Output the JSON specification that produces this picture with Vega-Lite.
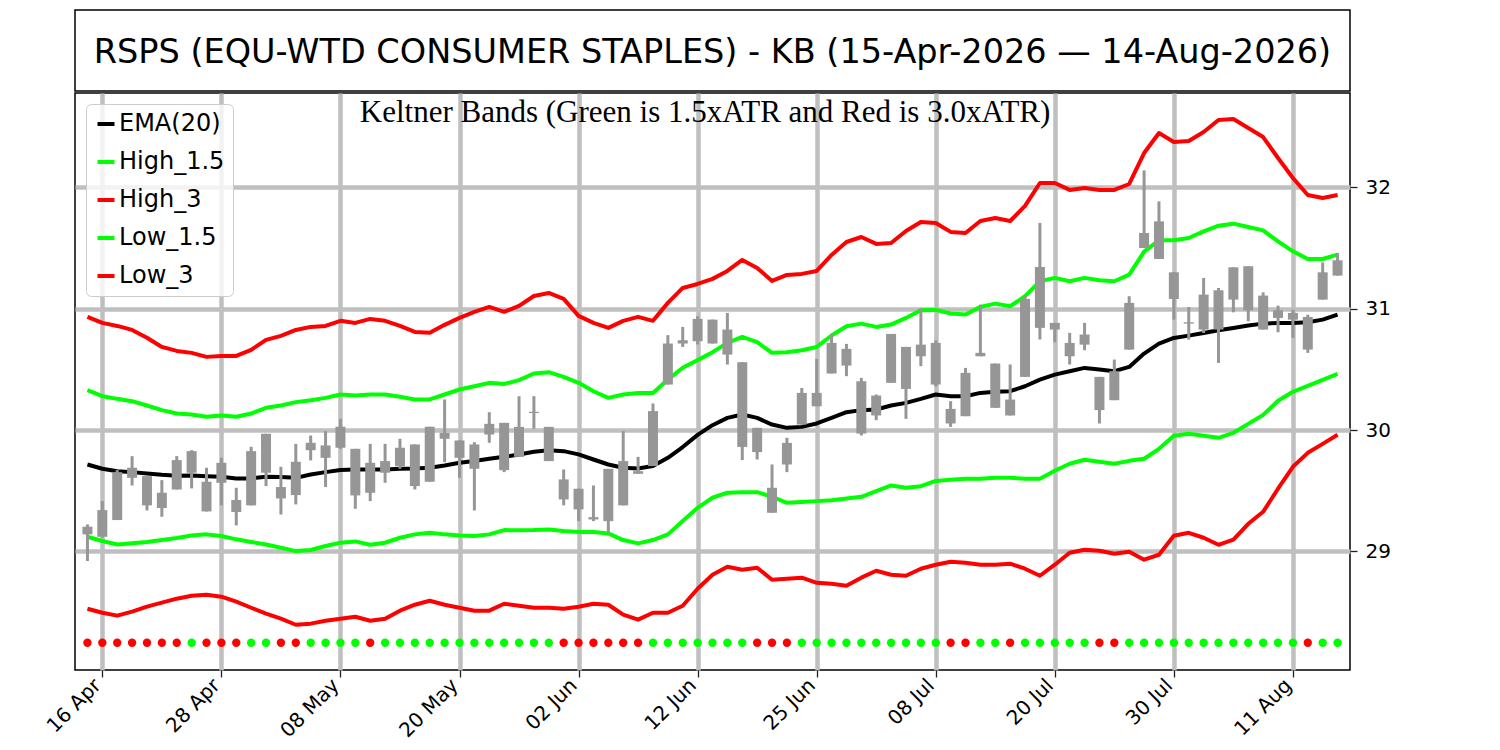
{
  "$schema": "https://vega.github.io/schema/vega-lite/v6.json",
  "background": "white",
  "padding": {"left": 42, "top": 9, "right": 5, "bottom": 2},
  "spacing": 0,
  "resolve": {"legend": {"color": "independent"}, "scale": {"color": "independent"}},
  "config": {
    "font": "DejaVu Sans",
    "view": {"stroke": "#000000", "strokeWidth": 1.5},
    "axis": {
      "labelFont": "DejaVu Sans",
      "labelColor": "#000000",
      "labelFontSize": 20,
      "titleFont": "DejaVu Sans",
      "gridColor": "#bfbfbf",
      "gridWidth": 4.5,
      "tickSize": 7,
      "tickWidth": 1.3,
      "tickColor": "#222222",
      "domain": false
    },
    "legend": {"labelFont": "DejaVu Sans"}
  },
  "vconcat": [
    {
      "width": 1275,
      "height": 81,
      "data": {"values": [{"t": "RSPS (EQU-WTD CONSUMER STAPLES) - KB (15-Apr-2026 — 14-Aug-2026)"}]},
      "layer": [
        {
          "mark": {"type": "rect", "filled": false, "stroke": "#000000", "strokeWidth": 1.5}
        },
        {
          "mark": {"type": "text", "font": "DejaVu Sans", "fontSize": 33.5, "align": "center", "baseline": "middle", "dy": 2, "color": "#000000"},
          "encoding": {"text": {"field": "t", "type": "nominal"}}
        }
      ]
    },
    {
      "width": 1275,
      "height": 577,
      "data": {
        "values": [
          {"i": 0, "d": "2026-04-15", "o": 29.140, "c": 29.203, "h": 29.222, "l": 28.920, "ema": 29.716, "h15": 30.329, "h3": 30.933, "l15": 29.120, "l3": 28.527, "sq": "on"},
          {"i": 1, "d": "2026-04-16", "o": 29.120, "c": 29.340, "h": 29.414, "l": 29.112, "ema": 29.681, "h15": 30.279, "h3": 30.883, "l15": 29.085, "l3": 28.494, "sq": "on"},
          {"i": 2, "d": "2026-04-17", "o": 29.258, "c": 29.653, "h": 29.670, "l": 29.258, "ema": 29.661, "h15": 30.257, "h3": 30.858, "l15": 29.057, "l3": 28.470, "sq": "on"},
          {"i": 3, "d": "2026-04-20", "o": 29.606, "c": 29.689, "h": 29.785, "l": 29.543, "ema": 29.653, "h15": 30.238, "h3": 30.825, "l15": 29.066, "l3": 28.503, "sq": "on"},
          {"i": 4, "d": "2026-04-21", "o": 29.620, "c": 29.379, "h": 29.620, "l": 29.337, "ema": 29.642, "h15": 30.202, "h3": 30.760, "l15": 29.077, "l3": 28.544, "sq": "on"},
          {"i": 5, "d": "2026-04-22", "o": 29.357, "c": 29.483, "h": 29.587, "l": 29.285, "ema": 29.631, "h15": 30.164, "h3": 30.685, "l15": 29.093, "l3": 28.577, "sq": "on"},
          {"i": 6, "d": "2026-04-23", "o": 29.510, "c": 29.752, "h": 29.785, "l": 29.510, "ema": 29.623, "h15": 30.136, "h3": 30.652, "l15": 29.110, "l3": 28.610, "sq": "on"},
          {"i": 7, "d": "2026-04-24", "o": 29.648, "c": 29.826, "h": 29.834, "l": 29.519, "ema": 29.626, "h15": 30.128, "h3": 30.636, "l15": 29.131, "l3": 28.634, "sq": "off"},
          {"i": 8, "d": "2026-04-27", "o": 29.574, "c": 29.329, "h": 29.689, "l": 29.329, "ema": 29.620, "h15": 30.109, "h3": 30.603, "l15": 29.140, "l3": 28.643, "sq": "on"},
          {"i": 9, "d": "2026-04-28", "o": 29.565, "c": 29.730, "h": 29.771, "l": 29.379, "ema": 29.615, "h15": 30.120, "h3": 30.611, "l15": 29.126, "l3": 28.626, "sq": "on"},
          {"i": 10, "d": "2026-04-29", "o": 29.423, "c": 29.324, "h": 29.524, "l": 29.214, "ema": 29.601, "h15": 30.109, "h3": 30.611, "l15": 29.099, "l3": 28.585, "sq": "on"},
          {"i": 11, "d": "2026-04-30", "o": 29.379, "c": 29.826, "h": 29.862, "l": 29.379, "ema": 29.601, "h15": 30.136, "h3": 30.661, "l15": 29.077, "l3": 28.535, "sq": "off"},
          {"i": 12, "d": "2026-05-01", "o": 29.969, "c": 29.648, "h": 29.969, "l": 29.538, "ema": 29.615, "h15": 30.183, "h3": 30.743, "l15": 29.057, "l3": 28.486, "sq": "off"},
          {"i": 13, "d": "2026-05-04", "o": 29.530, "c": 29.436, "h": 29.697, "l": 29.304, "ema": 29.612, "h15": 30.202, "h3": 30.776, "l15": 29.030, "l3": 28.445, "sq": "on"},
          {"i": 14, "d": "2026-05-05", "o": 29.464, "c": 29.738, "h": 29.886, "l": 29.387, "ema": 29.606, "h15": 30.230, "h3": 30.825, "l15": 29.002, "l3": 28.395, "sq": "on"},
          {"i": 15, "d": "2026-05-06", "o": 29.834, "c": 29.895, "h": 29.955, "l": 29.749, "ema": 29.634, "h15": 30.246, "h3": 30.850, "l15": 29.011, "l3": 28.404, "sq": "off"},
          {"i": 16, "d": "2026-05-07", "o": 29.873, "c": 29.771, "h": 29.991, "l": 29.530, "ema": 29.653, "h15": 30.265, "h3": 30.858, "l15": 29.044, "l3": 28.428, "sq": "off"},
          {"i": 17, "d": "2026-05-08", "o": 29.854, "c": 30.027, "h": 30.092, "l": 29.845, "ema": 29.670, "h15": 30.293, "h3": 30.900, "l15": 29.071, "l3": 28.445, "sq": "off"},
          {"i": 18, "d": "2026-05-11", "o": 29.845, "c": 29.461, "h": 29.845, "l": 29.351, "ema": 29.675, "h15": 30.285, "h3": 30.883, "l15": 29.082, "l3": 28.461, "sq": "off"},
          {"i": 19, "d": "2026-05-12", "o": 29.483, "c": 29.730, "h": 29.886, "l": 29.414, "ema": 29.675, "h15": 30.293, "h3": 30.916, "l15": 29.055, "l3": 28.428, "sq": "on"},
          {"i": 20, "d": "2026-05-13", "o": 29.744, "c": 29.648, "h": 29.886, "l": 29.565, "ema": 29.675, "h15": 30.293, "h3": 30.900, "l15": 29.071, "l3": 28.445, "sq": "off"},
          {"i": 21, "d": "2026-05-14", "o": 29.703, "c": 29.854, "h": 29.928, "l": 29.681, "ema": 29.681, "h15": 30.274, "h3": 30.858, "l15": 29.112, "l3": 28.511, "sq": "off"},
          {"i": 22, "d": "2026-05-15", "o": 29.881, "c": 29.538, "h": 29.881, "l": 29.510, "ema": 29.683, "h15": 30.252, "h3": 30.809, "l15": 29.140, "l3": 28.560, "sq": "off"},
          {"i": 23, "d": "2026-05-18", "o": 29.574, "c": 30.027, "h": 30.027, "l": 29.574, "ema": 29.689, "h15": 30.252, "h3": 30.801, "l15": 29.153, "l3": 28.593, "sq": "off"},
          {"i": 24, "d": "2026-05-19", "o": 29.977, "c": 29.928, "h": 30.252, "l": 29.735, "ema": 29.708, "h15": 30.293, "h3": 30.867, "l15": 29.140, "l3": 28.560, "sq": "off"},
          {"i": 25, "d": "2026-05-20", "o": 29.914, "c": 29.771, "h": 29.914, "l": 29.606, "ema": 29.730, "h15": 30.334, "h3": 30.924, "l15": 29.131, "l3": 28.535, "sq": "off"},
          {"i": 26, "d": "2026-05-21", "o": 29.681, "c": 29.881, "h": 29.900, "l": 29.337, "ema": 29.744, "h15": 30.361, "h3": 30.974, "l15": 29.126, "l3": 28.511, "sq": "off"},
          {"i": 27, "d": "2026-05-22", "o": 29.963, "c": 30.051, "h": 30.147, "l": 29.895, "ema": 29.763, "h15": 30.389, "h3": 31.015, "l15": 29.140, "l3": 28.511, "sq": "off"},
          {"i": 28, "d": "2026-05-26", "o": 30.059, "c": 29.669, "h": 30.059, "l": 29.653, "ema": 29.779, "h15": 30.380, "h3": 30.974, "l15": 29.175, "l3": 28.568, "sq": "off"},
          {"i": 29, "d": "2026-05-27", "o": 29.779, "c": 30.026, "h": 30.279, "l": 29.779, "ema": 29.799, "h15": 30.411, "h3": 31.023, "l15": 29.173, "l3": 28.552, "sq": "off"},
          {"i": 30, "d": "2026-05-28", "o": 30.140, "c": 30.150, "h": 30.279, "l": 30.010, "ema": 29.821, "h15": 30.466, "h3": 31.105, "l15": 29.175, "l3": 28.535, "sq": "off"},
          {"i": 31, "d": "2026-05-29", "o": 30.026, "c": 29.744, "h": 30.026, "l": 29.744, "ema": 29.834, "h15": 30.477, "h3": 31.130, "l15": 29.181, "l3": 28.535, "sq": "off"},
          {"i": 32, "d": "2026-06-01", "o": 29.593, "c": 29.428, "h": 29.675, "l": 29.379, "ema": 29.826, "h15": 30.438, "h3": 31.081, "l15": 29.167, "l3": 28.527, "sq": "on"},
          {"i": 33, "d": "2026-06-02", "o": 29.516, "c": 29.346, "h": 29.516, "l": 29.249, "ema": 29.799, "h15": 30.389, "h3": 30.941, "l15": 29.159, "l3": 28.544, "sq": "on"},
          {"i": 34, "d": "2026-06-03", "o": 29.263, "c": 29.282, "h": 29.543, "l": 29.249, "ema": 29.757, "h15": 30.320, "h3": 30.883, "l15": 29.159, "l3": 28.568, "sq": "on"},
          {"i": 35, "d": "2026-06-04", "o": 29.249, "c": 29.680, "h": 29.680, "l": 29.153, "ema": 29.716, "h15": 30.265, "h3": 30.842, "l15": 29.148, "l3": 28.560, "sq": "on"},
          {"i": 36, "d": "2026-06-05", "o": 29.379, "c": 29.744, "h": 29.991, "l": 29.379, "ema": 29.689, "h15": 30.293, "h3": 30.900, "l15": 29.093, "l3": 28.478, "sq": "on"},
          {"i": 37, "d": "2026-06-08", "o": 29.661, "c": 29.639, "h": 29.779, "l": 29.639, "ema": 29.683, "h15": 30.306, "h3": 30.933, "l15": 29.066, "l3": 28.437, "sq": "on"},
          {"i": 38, "d": "2026-06-09", "o": 29.703, "c": 30.156, "h": 30.219, "l": 29.703, "ema": 29.703, "h15": 30.306, "h3": 30.900, "l15": 29.093, "l3": 28.494, "sq": "off"},
          {"i": 39, "d": "2026-06-10", "o": 30.375, "c": 30.713, "h": 30.782, "l": 30.375, "ema": 29.771, "h15": 30.416, "h3": 31.048, "l15": 29.140, "l3": 28.494, "sq": "off"},
          {"i": 40, "d": "2026-06-11", "o": 30.740, "c": 30.713, "h": 30.850, "l": 30.685, "ema": 29.860, "h15": 30.513, "h3": 31.171, "l15": 29.250, "l3": 28.552, "sq": "off"},
          {"i": 41, "d": "2026-06-12", "o": 30.732, "c": 30.916, "h": 30.938, "l": 30.705, "ema": 29.960, "h15": 30.576, "h3": 31.204, "l15": 29.359, "l3": 28.692, "sq": "off"},
          {"i": 42, "d": "2026-06-15", "o": 30.910, "c": 30.713, "h": 30.910, "l": 30.713, "ema": 30.040, "h15": 30.642, "h3": 31.246, "l15": 29.442, "l3": 28.807, "sq": "off"},
          {"i": 43, "d": "2026-06-16", "o": 30.828, "c": 30.622, "h": 30.965, "l": 30.540, "ema": 30.100, "h15": 30.718, "h3": 31.311, "l15": 29.483, "l3": 28.873, "sq": "off"},
          {"i": 44, "d": "2026-06-17", "o": 30.559, "c": 29.861, "h": 30.559, "l": 29.752, "ema": 30.128, "h15": 30.768, "h3": 31.402, "l15": 29.488, "l3": 28.848, "sq": "off"},
          {"i": 45, "d": "2026-06-18", "o": 30.018, "c": 29.818, "h": 30.018, "l": 29.757, "ema": 30.100, "h15": 30.724, "h3": 31.336, "l15": 29.488, "l3": 28.865, "sq": "on"},
          {"i": 46, "d": "2026-06-22", "o": 29.524, "c": 29.318, "h": 29.716, "l": 29.318, "ema": 30.045, "h15": 30.636, "h3": 31.229, "l15": 29.450, "l3": 28.766, "sq": "on"},
          {"i": 47, "d": "2026-06-23", "o": 29.716, "c": 29.894, "h": 29.936, "l": 29.653, "ema": 30.018, "h15": 30.641, "h3": 31.278, "l15": 29.400, "l3": 28.774, "sq": "on"},
          {"i": 48, "d": "2026-06-24", "o": 30.045, "c": 30.306, "h": 30.347, "l": 30.045, "ema": 30.026, "h15": 30.658, "h3": 31.287, "l15": 29.406, "l3": 28.783, "sq": "off"},
          {"i": 49, "d": "2026-06-25", "o": 30.306, "c": 30.196, "h": 30.586, "l": 30.196, "ema": 30.054, "h15": 30.685, "h3": 31.311, "l15": 29.414, "l3": 28.741, "sq": "off"},
          {"i": 50, "d": "2026-06-26", "o": 30.466, "c": 30.718, "h": 30.787, "l": 30.466, "ema": 30.100, "h15": 30.779, "h3": 31.443, "l15": 29.422, "l3": 28.733, "sq": "off"},
          {"i": 51, "d": "2026-06-29", "o": 30.669, "c": 30.531, "h": 30.710, "l": 30.444, "ema": 30.147, "h15": 30.855, "h3": 31.550, "l15": 29.436, "l3": 28.717, "sq": "off"},
          {"i": 52, "d": "2026-06-30", "o": 30.402, "c": 29.971, "h": 30.430, "l": 29.955, "ema": 30.164, "h15": 30.877, "h3": 31.591, "l15": 29.450, "l3": 28.783, "sq": "off"},
          {"i": 53, "d": "2026-07-01", "o": 30.120, "c": 30.284, "h": 30.293, "l": 30.081, "ema": 30.169, "h15": 30.850, "h3": 31.534, "l15": 29.496, "l3": 28.840, "sq": "off"},
          {"i": 54, "d": "2026-07-02", "o": 30.389, "c": 30.792, "h": 30.792, "l": 30.389, "ema": 30.202, "h15": 30.869, "h3": 31.542, "l15": 29.543, "l3": 28.807, "sq": "off"},
          {"i": 55, "d": "2026-07-06", "o": 30.685, "c": 30.339, "h": 30.685, "l": 30.092, "ema": 30.224, "h15": 30.924, "h3": 31.641, "l15": 29.524, "l3": 28.799, "sq": "off"},
          {"i": 56, "d": "2026-07-07", "o": 30.608, "c": 30.704, "h": 31.006, "l": 30.526, "ema": 30.257, "h15": 30.987, "h3": 31.715, "l15": 29.537, "l3": 28.857, "sq": "off"},
          {"i": 57, "d": "2026-07-08", "o": 30.375, "c": 30.718, "h": 30.740, "l": 30.360, "ema": 30.293, "h15": 30.990, "h3": 31.707, "l15": 29.580, "l3": 28.890, "sq": "off"},
          {"i": 58, "d": "2026-07-09", "o": 30.174, "c": 30.054, "h": 30.238, "l": 30.026, "ema": 30.279, "h15": 30.960, "h3": 31.633, "l15": 29.590, "l3": 28.914, "sq": "on"},
          {"i": 59, "d": "2026-07-10", "o": 30.114, "c": 30.471, "h": 30.512, "l": 30.114, "ema": 30.279, "h15": 30.952, "h3": 31.624, "l15": 29.598, "l3": 28.906, "sq": "on"},
          {"i": 60, "d": "2026-07-13", "o": 30.636, "c": 30.608, "h": 31.034, "l": 30.608, "ema": 30.306, "h15": 31.015, "h3": 31.723, "l15": 29.598, "l3": 28.890, "sq": "off"},
          {"i": 61, "d": "2026-07-14", "o": 30.548, "c": 30.183, "h": 30.548, "l": 30.183, "ema": 30.315, "h15": 31.042, "h3": 31.748, "l15": 29.606, "l3": 28.890, "sq": "off"},
          {"i": 62, "d": "2026-07-15", "o": 30.251, "c": 30.120, "h": 30.540, "l": 30.120, "ema": 30.320, "h15": 31.020, "h3": 31.723, "l15": 29.606, "l3": 28.898, "sq": "on"},
          {"i": 63, "d": "2026-07-16", "o": 30.438, "c": 31.081, "h": 31.108, "l": 30.438, "ema": 30.361, "h15": 31.103, "h3": 31.847, "l15": 29.598, "l3": 28.857, "sq": "off"},
          {"i": 64, "d": "2026-07-17", "o": 30.842, "c": 31.344, "h": 31.707, "l": 30.746, "ema": 30.416, "h15": 31.226, "h3": 32.036, "l15": 29.598, "l3": 28.799, "sq": "off"},
          {"i": 65, "d": "2026-07-20", "o": 30.883, "c": 30.828, "h": 30.883, "l": 30.724, "ema": 30.457, "h15": 31.254, "h3": 32.036, "l15": 29.664, "l3": 28.890, "sq": "off"},
          {"i": 66, "d": "2026-07-21", "o": 30.718, "c": 30.608, "h": 30.801, "l": 30.540, "ema": 30.485, "h15": 31.226, "h3": 31.979, "l15": 29.722, "l3": 28.989, "sq": "off"},
          {"i": 67, "d": "2026-07-22", "o": 30.704, "c": 30.787, "h": 30.883, "l": 30.658, "ema": 30.512, "h15": 31.254, "h3": 31.995, "l15": 29.755, "l3": 29.013, "sq": "off"},
          {"i": 68, "d": "2026-07-23", "o": 30.438, "c": 30.164, "h": 30.438, "l": 30.054, "ema": 30.498, "h15": 31.234, "h3": 31.979, "l15": 29.738, "l3": 29.005, "sq": "on"},
          {"i": 69, "d": "2026-07-24", "o": 30.246, "c": 30.485, "h": 30.581, "l": 30.246, "ema": 30.485, "h15": 31.226, "h3": 31.979, "l15": 29.722, "l3": 28.980, "sq": "on"},
          {"i": 70, "d": "2026-07-27", "o": 30.663, "c": 31.048, "h": 31.103, "l": 30.663, "ema": 30.520, "h15": 31.281, "h3": 32.028, "l15": 29.746, "l3": 28.997, "sq": "off"},
          {"i": 71, "d": "2026-07-28", "o": 31.500, "c": 31.624, "h": 32.140, "l": 31.500, "ema": 30.630, "h15": 31.470, "h3": 32.283, "l15": 29.763, "l3": 28.931, "sq": "off"},
          {"i": 72, "d": "2026-07-29", "o": 31.720, "c": 31.410, "h": 31.885, "l": 31.410, "ema": 30.712, "h15": 31.564, "h3": 32.448, "l15": 29.845, "l3": 28.972, "sq": "off"},
          {"i": 73, "d": "2026-07-30", "o": 31.300, "c": 31.080, "h": 31.300, "l": 30.910, "ema": 30.759, "h15": 31.564, "h3": 32.374, "l15": 29.952, "l3": 29.129, "sq": "off"},
          {"i": 74, "d": "2026-07-31", "o": 30.877, "c": 30.888, "h": 31.014, "l": 30.745, "ema": 30.778, "h15": 31.583, "h3": 32.382, "l15": 29.969, "l3": 29.153, "sq": "off"},
          {"i": 75, "d": "2026-08-03", "o": 30.828, "c": 31.116, "h": 31.253, "l": 30.800, "ema": 30.800, "h15": 31.638, "h3": 32.456, "l15": 29.952, "l3": 29.112, "sq": "off"},
          {"i": 76, "d": "2026-08-04", "o": 31.152, "c": 30.828, "h": 31.171, "l": 30.553, "ema": 30.822, "h15": 31.684, "h3": 32.555, "l15": 29.936, "l3": 29.054, "sq": "off"},
          {"i": 77, "d": "2026-08-05", "o": 31.075, "c": 31.341, "h": 31.341, "l": 30.970, "ema": 30.841, "h15": 31.701, "h3": 32.563, "l15": 29.977, "l3": 29.096, "sq": "off"},
          {"i": 78, "d": "2026-08-06", "o": 31.350, "c": 30.987, "h": 31.350, "l": 30.896, "ema": 30.861, "h15": 31.673, "h3": 32.489, "l15": 30.051, "l3": 29.227, "sq": "off"},
          {"i": 79, "d": "2026-08-07", "o": 31.108, "c": 30.828, "h": 31.135, "l": 30.828, "ema": 30.877, "h15": 31.646, "h3": 32.415, "l15": 30.125, "l3": 29.326, "sq": "off"},
          {"i": 80, "d": "2026-08-10", "o": 30.924, "c": 30.987, "h": 31.025, "l": 30.806, "ema": 30.883, "h15": 31.555, "h3": 32.242, "l15": 30.241, "l3": 29.516, "sq": "off"},
          {"i": 81, "d": "2026-08-11", "o": 30.965, "c": 30.910, "h": 30.992, "l": 30.759, "ema": 30.883, "h15": 31.473, "h3": 32.077, "l15": 30.315, "l3": 29.697, "sq": "off"},
          {"i": 82, "d": "2026-08-12", "o": 30.932, "c": 30.663, "h": 30.951, "l": 30.636, "ema": 30.888, "h15": 31.410, "h3": 31.937, "l15": 30.364, "l3": 29.812, "sq": "on"},
          {"i": 83, "d": "2026-08-13", "o": 31.075, "c": 31.300, "h": 31.382, "l": 31.075, "ema": 30.910, "h15": 31.410, "h3": 31.913, "l15": 30.414, "l3": 29.886, "sq": "off"},
          {"i": 84, "d": "2026-08-14", "o": 31.273, "c": 31.399, "h": 31.459, "l": 31.273, "ema": 30.951, "h15": 31.446, "h3": 31.937, "l15": 30.463, "l3": 29.961, "sq": "off"}
        ]
      },
      "layer": [
        {
          "transform": [{"fold": ["ema", "h15", "h3", "l15", "l3"], "as": ["series", "val"]}],
          "mark": {"type": "line", "strokeWidth": 4, "strokeJoin": "round"},
          "encoding": {
            "x": {
              "field": "i",
              "type": "quantitative",
              "title": null,
              "scale": {"domain": [-0.5, 84.5], "nice": false, "zero": false},
              "axis": {
                "values": [1, 9, 17, 25, 33, 41, 49, 57, 65, 73, 81],
                "labelExpr": "['16 Apr','28 Apr','08 May','20 May','02 Jun','12 Jun','25 Jun','08 Jul','20 Jul','30 Jul','11 Aug'][round((datum.value - 1) / 8)]",
                "title": null,
                "grid": true,
                "labelFontSize": 20,
                "labelAngle": -45,
                "labelAlign": "right",
                "labelBaseline": "middle",
                "labelOffset": -5,
                "labelPadding": 5,
                "labelOverlap": false,
                "labelFlush": false,
                "labelBound": false
              }
            },
            "y": {
              "field": "val",
              "type": "quantitative",
              "title": null,
              "scale": {"domain": [28.022, 32.778], "nice": false, "zero": false},
              "axis": {
                "orient": "right",
                "values": [29, 30, 31, 32],
                "format": "d",
                "title": null,
                "grid": true,
                "labelFontSize": 20,
                "labelPadding": 8
              }
            },
            "color": {
              "field": "series",
              "type": "nominal",
              "scale": {
                "domain": ["ema", "h15", "h3", "l15", "l3"],
                "range": ["#000000", "#00ff00", "#ff0000", "#00ff00", "#ff0000"]
              },
              "legend": {
                "orient": "top-left",
                "offset": 11,
                "title": null,
                "labelExpr": "datum.label == 'ema' ? 'EMA(20)' : datum.label == 'h15' ? 'High_1.5' : datum.label == 'h3' ? 'High_3' : datum.label == 'l15' ? 'Low_1.5' : 'Low_3'",
                "labelFontSize": 24,
                "labelColor": "#000000",
                "labelOffset": 1,
                "symbolType": "stroke",
                "symbolSize": 289,
                "symbolStrokeWidth": 4,
                "rowPadding": 14,
                "padding": 8,
                "strokeColor": "#cccccc",
                "fillColor": "rgba(255,255,255,0.8)",
                "cornerRadius": 5
              }
            }
          }
        },
        {
          "mark": {"type": "point", "shape": "circle", "filled": true, "size": 70, "opacity": 1},
          "encoding": {
            "x": {"field": "i", "type": "quantitative", "title": null, "scale": {"domain": [-0.5, 84.5], "nice": false, "zero": false}},
            "y": {"datum": 28.247, "type": "quantitative", "title": null, "scale": {"domain": [28.022, 32.778], "nice": false, "zero": false}},
            "fill": {
              "field": "sq",
              "type": "nominal",
              "scale": {"domain": ["on", "off"], "range": ["#ff0000", "#00ff00"]},
              "legend": null
            }
          }
        },
        {
          "mark": {"type": "rule", "strokeWidth": 3, "color": "#969696"},
          "encoding": {
            "x": {"field": "i", "type": "quantitative", "title": null, "scale": {"domain": [-0.5, 84.5], "nice": false, "zero": false}},
            "y": {"field": "l", "type": "quantitative", "title": null, "scale": {"domain": [28.022, 32.778], "nice": false, "zero": false}},
            "y2": {"field": "h"}
          }
        },
        {
          "mark": {"type": "bar", "size": 10, "color": "#969696"},
          "encoding": {
            "x": {"field": "i", "type": "quantitative", "title": null, "scale": {"domain": [-0.5, 84.5], "nice": false, "zero": false}},
            "y": {"field": "o", "type": "quantitative", "title": null, "scale": {"domain": [28.022, 32.778], "nice": false, "zero": false}},
            "y2": {"field": "c"}
          }
        },
        {
          "data": {"values": [{"t": "Keltner Bands (Green is 1.5xATR and Red is 3.0xATR)"}]},
          "mark": {"type": "text", "font": "Liberation Serif", "fontSize": 31, "align": "center", "baseline": "alphabetic", "color": "#000000"},
          "encoding": {
            "x": {"datum": 41.5, "type": "quantitative"},
            "y": {"datum": 32.535, "type": "quantitative"},
            "text": {"field": "t", "type": "nominal"}
          }
        }
      ]
    }
  ]
}
